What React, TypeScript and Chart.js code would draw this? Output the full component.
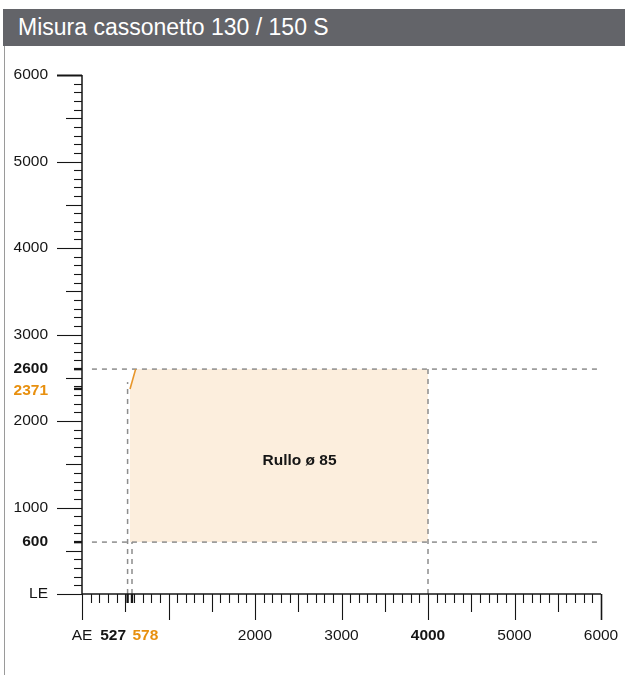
import React, { useEffect, useRef } from 'react';
import { Chart, registerables } from 'chart.js';

Chart.register(...registerables);

const titleText = 'Misura cassonetto 130 / 150 S';

// axis range
const axisMin = 0;
const axisMax = 6000;

// tick labels
const xTickValues = [0, 527, 578, 2000, 3000, 4000, 5000, 6000];
const xTickLabels = ['AE', '527', '578', '2000', '3000', '4000', '5000', '6000'];
const yTickValues = [0, 600, 1000, 2000, 2371, 2600, 3000, 4000, 5000, 6000];
const yTickLabels = ['LE', '600', '1000', '2000', '2371', '2600', '3000', '4000', '5000', '6000'];

// dimension markers (bold) and curve markers (orange)
const xMarkers = [527, 4000];
const xCurveMarkers = [578];
const yMarkers = [600, 2600];
const yCurveMarkers = [2371];

// operating area (Rullo ø 85)
const areaLabel = 'Rullo ø 85';
const areaLabelAt = { x: 2515, y: 1540 };
const areaTopX = [555, 620, 4000];
const areaTopY = [2371, 2600, 2600];
const areaBase = 600;
const curveX = [555, 620];
const curveY = [2371, 2600];

// dashed guide lines
const guideH2600X = [115, 6000];
const guideH2600Y = [2600, 2600];
const guideH600X = [115, 6000];
const guideH600Y = [600, 600];
const guideV4000X = [4000, 4000];
const guideV4000Y = [0, 2600];
const guideV527X = [527, 527];
const guideV527Y = [0, 2450];
const guideV578X = [578, 578];
const guideV578Y = [0, 600];

const pts = (xs: number[], ys: number[]) => xs.map((x, i) => ({ x, y: ys[i] }));

const FONT = '"Liberation Sans", Arial, Helvetica, sans-serif';
const ORANGE = '#E8900F';
const INK = '#151515';

const axesPlugin = {
  id: 'customAxes',
  afterDraw(chart: any) {
    const { ctx, scales } = chart;
    const xs = scales.x;
    const ys = scales.y;
    const x0 = xs.getPixelForValue(axisMin);
    const y0 = ys.getPixelForValue(axisMin);
    const xEnd = xs.getPixelForValue(axisMax);
    const yEnd = ys.getPixelForValue(axisMax);
    const line = (a: number, b: number, c: number, d: number) => {
      ctx.beginPath();
      ctx.moveTo(a, b);
      ctx.lineTo(c, d);
      ctx.stroke();
    };
    ctx.save();
    ctx.strokeStyle = INK;
    ctx.lineWidth = 1.5;
    line(x0, yEnd, x0, y0);
    line(x0, y0, xEnd, y0);

    for (let v = axisMin; v <= axisMax; v += 100) {
      const ylen = v % 1000 === 0 ? 25 : v % 500 === 0 ? 16 : 8;
      const py = Math.round(ys.getPixelForValue(v)) + 0.5;
      ctx.lineWidth = v === axisMax ? 2 : 1.1;
      line(x0 - ylen, py, x0, py);
      const xlen = v % 1000 === 0 ? 26 : v % 500 === 0 ? 18 : 9;
      const px = Math.round(xs.getPixelForValue(v)) + 0.5;
      ctx.lineWidth = v === axisMax ? 1.6 : 1.1;
      line(px, y0, px, y0 + xlen);
    }
    ctx.lineWidth = 2.4;
    [...yMarkers, ...yCurveMarkers].forEach((v) => {
      if (v % 1000 === 0) return;
      const py = ys.getPixelForValue(v);
      line(x0 - 8, py, x0, py);
    });
    [...xMarkers, ...xCurveMarkers].forEach((v) => {
      if (v % 1000 === 0) return;
      const px = xs.getPixelForValue(v);
      line(px, y0, px, y0 + 9);
    });

    // y labels
    ctx.textBaseline = 'middle';
    ctx.textAlign = 'right';
    yTickValues.forEach((v, i) => {
      const bold = yMarkers.includes(v) || yCurveMarkers.includes(v);
      ctx.font = `${bold ? 'bold ' : ''}15.5px ${FONT}`;
      ctx.fillStyle = yCurveMarkers.includes(v) ? ORANGE : INK;
      let py = ys.getPixelForValue(v);
      if (yCurveMarkers.includes(v)) py += 2;
      ctx.fillText(yTickLabels[i], 48, py);
    });

    // x labels
    const ly = y0 + 42;
    xTickValues.forEach((v, i) => {
      const bold = xMarkers.includes(v) || xCurveMarkers.includes(v);
      ctx.font = `${bold ? 'bold ' : ''}15.5px ${FONT}`;
      ctx.fillStyle = xCurveMarkers.includes(v) ? ORANGE : INK;
      const px = xs.getPixelForValue(v);
      const prev = xTickValues[i - 1];
      const next = xTickValues[i + 1];
      const closeNext = next !== undefined && xs.getPixelForValue(next) - px < 20;
      const closePrev = prev !== undefined && px - xs.getPixelForValue(prev) < 20;
      if (closeNext) {
        ctx.textAlign = 'right';
        ctx.fillText(xTickLabels[i], px - 1.5, ly);
      } else if (closePrev) {
        ctx.textAlign = 'left';
        ctx.fillText(xTickLabels[i], px + 0.5, ly);
      } else {
        ctx.textAlign = 'center';
        ctx.fillText(xTickLabels[i], px, ly);
      }
    });

    // area label
    ctx.font = `bold 15.5px ${FONT}`;
    ctx.fillStyle = INK;
    ctx.textAlign = 'center';
    ctx.fillText(areaLabel, xs.getPixelForValue(areaLabelAt.x), ys.getPixelForValue(areaLabelAt.y));
    ctx.restore();
  },
};

const dashed = (xsv: number[], ysv: number[]) => ({
  data: pts(xsv, ysv),
  showLine: true,
  borderColor: '#8d8d8d',
  borderWidth: 1.5,
  borderDash: [5, 5],
  pointRadius: 0,
  fill: false,
  order: 2,
});

export default function App() {
  const ref = useRef<HTMLCanvasElement | null>(null);
  useEffect(() => {
    if (!ref.current) return;
    const chart = new Chart(ref.current, {
      type: 'scatter',
      data: {
        datasets: [
          {
            data: pts(areaTopX, areaTopY),
            showLine: true,
            borderWidth: 0,
            borderColor: 'rgba(0,0,0,0)',
            backgroundColor: '#FCEEDD',
            pointRadius: 0,
            fill: { value: areaBase },
            order: 3,
          } as any,
          {
            data: pts(curveX, curveY),
            showLine: true,
            borderColor: '#E8962A',
            borderWidth: 1.6,
            pointRadius: 0,
            fill: false,
            order: 1,
          },
          dashed(guideH2600X, guideH2600Y),
          dashed(guideH600X, guideH600Y),
          dashed(guideV4000X, guideV4000Y),
          dashed(guideV527X, guideV527Y),
          dashed(guideV578X, guideV578Y),
        ] as any,
      },
      options: {
        animation: false,
        responsive: false,
        layout: { padding: { left: 82, right: 24, top: 75, bottom: 81 } },
        plugins: { legend: { display: false }, tooltip: { enabled: false } },
        scales: {
          x: { type: 'linear', min: axisMin, max: axisMax, display: false },
          y: { type: 'linear', min: axisMin, max: axisMax, display: false },
        },
      } as any,
      plugins: [axesPlugin],
    });
    return () => chart.destroy();
  }, []);

  return (
    <div style={{ position: 'fixed', left: 0, top: 0, width: 625, height: 675, background: '#fff', overflow: 'hidden' }}>
      <div
        style={{
          position: 'absolute',
          left: 3,
          top: 9,
          width: 622,
          height: 37,
          background: '#636469',
        }}
      />
      <div
        style={{
          position: 'absolute',
          left: 18,
          top: 9,
          height: 37,
          color: '#fff',
          fontFamily: FONT,
          fontSize: 23,
          lineHeight: '37px',
          whiteSpace: 'nowrap',
        }}
      >
        {titleText}
      </div>
      <div style={{ position: 'absolute', left: 4, top: 46, width: 1, height: 629, background: '#9a9a9a' }} />
      <canvas ref={ref} width={625} height={675} style={{ position: 'absolute', left: 0, top: 0 }} />
    </div>
  );
}
